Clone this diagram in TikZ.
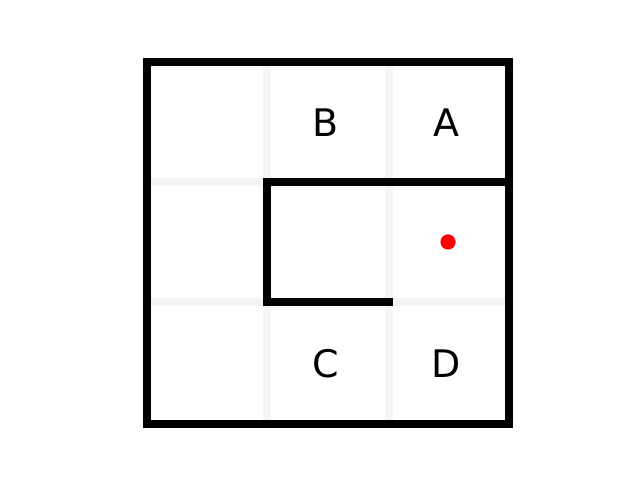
\documentclass[tikz,border=0pt]{standalone}
\usepackage{fontspec}
\setmainfont{DejaVu Sans}
\begin{document}
\begin{tikzpicture}[
  x=0.025cm, y=0.025cm,
  gridln/.style={line width=0.2cm, draw=black!4},
  wall/.style={line width=0.21cm, draw=black, line cap=rect},
  lbl/.style={font=\fontsize{27}{30}\selectfont, inner sep=0pt},
  goal/.style={circle, fill=red, inner sep=0pt, minimum size=0.38cm}
]
\useasboundingbox (0,0) rectangle (640,480);
% light cell grid
\draw[gridln] (267,56) -- (267,418);
\draw[gridln] (389,56) -- (389,418);
\draw[gridln] (147,298) -- (509,298);
\draw[gridln] (147,178) -- (509,178);
% walls
\draw[wall] (147,56) rectangle (509,418);
\draw[wall] (509,298) -- (267,298) -- (267,178) -- (389,178);
% labels
\node[lbl] (lblB) at (326,357) {B};
\node[lbl] (lblA) at (446,357) {A};
\node[lbl] (lblC) at (326,116) {C};
\node[lbl] (lblD) at (446,116) {D};
\node[goal] (dot) at (448,238) {};
\end{tikzpicture}
\end{document}
